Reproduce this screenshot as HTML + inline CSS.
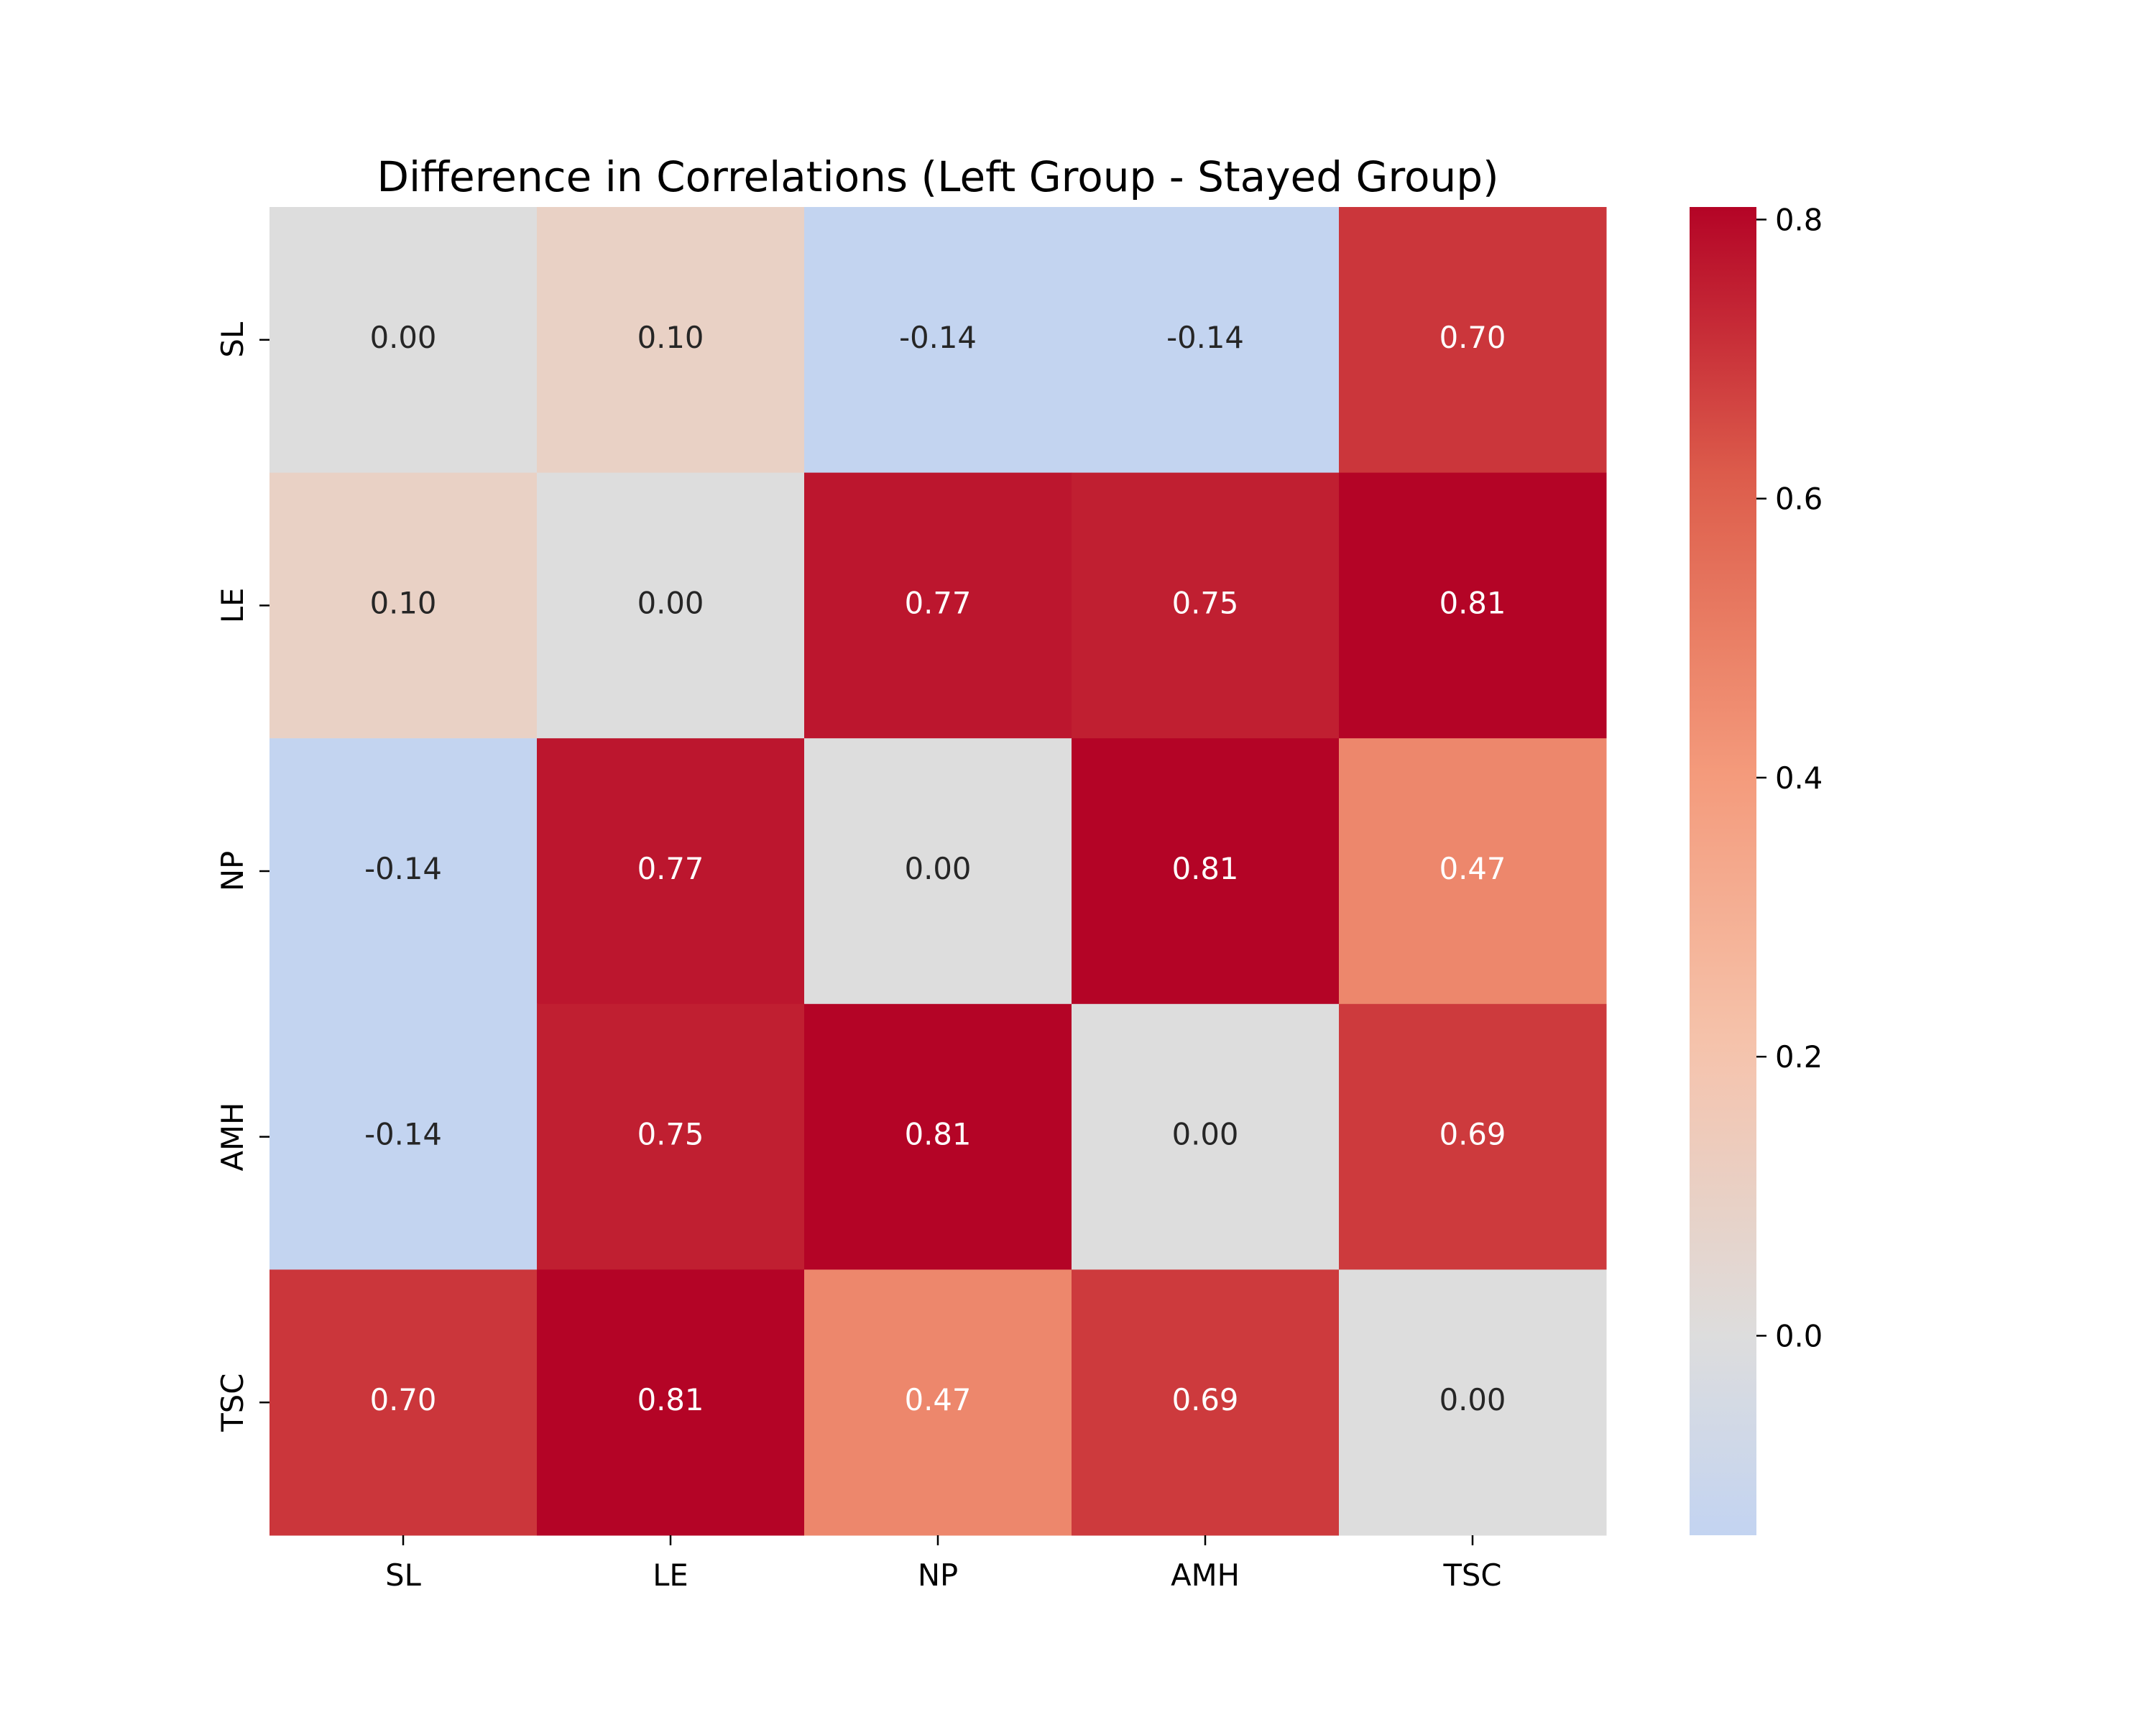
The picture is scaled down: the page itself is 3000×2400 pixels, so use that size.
<!DOCTYPE html>
<html><head><meta charset="utf-8"><style>
html,body{margin:0;padding:0;background:#fff;}
svg{display:block;font-family:"DejaVu Sans","Liberation Sans",sans-serif;}
</style></head><body>
<svg id="chart" width="3000" height="2400" viewBox="0 0 3000 2400">
<defs><linearGradient id="cbgrad" x1="0" y1="1" x2="0" y2="0"></linearGradient></defs>
<text x="1305" y="266" font-size="58" text-anchor="middle" fill="#000">Difference in Correlations (Left Group - Stayed Group)</text>
<g id="cells"></g><g id="axes"></g><g id="cbar"></g>
</svg>
<script>
const labels = ["SL","LE","NP","AMH","TSC"];
const row0 = [0.00, 0.10, -0.14, -0.14, 0.70];
const row1 = [0.10, 0.00, 0.77, 0.75, 0.81];
const row2 = [-0.14, 0.77, 0.00, 0.81, 0.47];
const row3 = [-0.14, 0.75, 0.81, 0.00, 0.69];
const row4 = [0.70, 0.81, 0.47, 0.69, 0.00];
const matrix = [row0,row1,row2,row3,row4];
const cbTicks = [0.0, 0.2, 0.4, 0.6, 0.8];
const vmin = -0.143, vmax = 0.809;

const NS = "http://www.w3.org/2000/svg";
const X0 = 375, X1 = 2235, Y0 = 288, Y1 = 2136;
const n = labels.length;
const cw = (X1 - X0) / n, ch = (Y1 - Y0) / n;
const stops = [[59,76,192],[98,130,234],[141,176,254],[184,208,249],[221,221,221],[245,196,173],[244,154,123],[222,96,77],[180,4,38]];
function coolwarm(v){
  const r = Math.max(Math.abs(vmin), Math.abs(vmax));
  let t = (v + r) / (2 * r); t = Math.max(0, Math.min(1, t));
  const p = t * (stops.length - 1), i = Math.min(stops.length - 2, Math.floor(p)), f = p - i;
  return stops[i].map((a, k) => Math.round(a + (stops[i+1][k] - a) * f));
}
function col(c){return `rgb(${c[0]},${c[1]},${c[2]})`;}
function lum(c){const l=c.map(x=>{x/=255;return x<=0.03928?x/12.92:Math.pow((x+0.055)/1.055,2.4);});return 0.2126*l[0]+0.7152*l[1]+0.0722*l[2];}
function mk(tag, attrs, parent){const e=document.createElementNS(NS,tag);for(const k in attrs)e.setAttribute(k,attrs[k]);parent.appendChild(e);return e;}

const FS = 41.7;
const cells = document.getElementById('cells');
for (let r = 0; r < n; r++) for (let c = 0; c < n; c++) {
  const v = matrix[r][c], cc = coolwarm(v);
  const rect = mk('rect', {x: X0 + c*cw, y: Y0 + r*ch, width: cw + 0.5, height: ch + 0.5, fill: col(cc)}, cells);
  
  
  const t = mk('text', {x: X0 + (c+0.5)*cw, y: Y0 + (r+0.5)*ch + 11, 'font-size': FS, 'text-anchor': 'middle', fill: lum(cc) > 0.408 ? '#262626' : '#fff'}, cells);
  t.textContent = v.toFixed(2);
  
  
}
const axes = document.getElementById('axes');
for (let i = 0; i < n; i++) {
  const cx = X0 + (i+0.5)*cw, cy = Y0 + (i+0.5)*ch;
  mk('line', {x1: cx, y1: Y1, x2: cx, y2: Y1 + 14, stroke: '#000', 'stroke-width': 2.5}, axes);
  const tx = mk('text', {x: cx, y: Y1 + 70, 'font-size': FS, 'text-anchor': 'middle', fill: '#000'}, axes);
  tx.textContent = labels[i];
  
  
  mk('line', {x1: X0 - 14, y1: cy, x2: X0, y2: cy, stroke: '#000', 'stroke-width': 2.5}, axes);
  const ty = mk('text', {x: 0, y: 0, 'font-size': FS, 'text-anchor': 'middle', fill: '#000', transform: `translate(${X0-37},${cy}) rotate(-90)`}, axes);
  ty.textContent = labels[i];
  
  
}
const CX0 = 2351, CX1 = 2444;
const grad = document.getElementById('cbgrad');
for (let k = 0; k <= 40; k++) {
  const v = vmin + (vmax - vmin) * k / 40;
  mk('stop', {offset: (k/40*100) + '%', 'stop-color': col(coolwarm(v))}, grad);
}
const cbar = document.getElementById('cbar');
const cb = mk('rect', {x: CX0, y: Y0, width: CX1 - CX0, height: Y1 - Y0, fill: 'url(#cbgrad)'}, cbar);


function cyv(v){return Y1 - (v - vmin) / (vmax - vmin) * (Y1 - Y0);}
cbTicks.forEach(v => {
  const y = cyv(v);
  mk('line', {x1: CX1, y1: y, x2: CX1 + 14, y2: y, stroke: '#000', 'stroke-width': 2.5}, cbar);
  const t = mk('text', {x: CX1 + 26, y: y + 15, 'font-size': FS, fill: '#000'}, cbar);
  t.textContent = v.toFixed(1);
  
  
});
</script>
</body></html>
